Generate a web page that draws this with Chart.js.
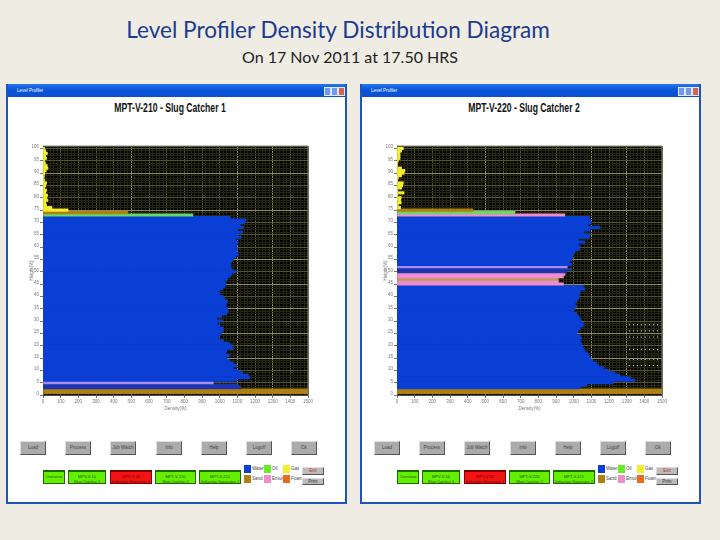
<!DOCTYPE html>
<html lang="en">
<head>
<meta charset="UTF-8">
<title>Level Profiler Density Distribution Diagram</title>
<script src="https://cdn.jsdelivr.net/npm/chart.js"></script>
<style>
    html, body { margin: 0; padding: 0; }
    body { width: 720px; height: 540px; background: #efece4; position: relative; overflow: hidden; font-family: "Liberation Sans", sans-serif; }
    .heading { position: absolute; white-space: nowrap; font-family: Lato, sans-serif; transform: translateX(-50%); }
    #mainTitle { left: 338px; top: 16px; font-size: 22.6px; color: #1c3a8e; }
    #subTitle { left: 350px; top: 47px; font-size: 16px; color: #222; }
    .win { position: absolute; top: 84px; width: 337px; height: 418px; background: #fff; border: 2px solid #1f55b8; border-top: none; filter: blur(0.35px); }
    .bar { position: absolute; left: 0; top: 0; width: 100%; height: 13px; background: linear-gradient(#2a78ee, #0a55dc 40%, #0a50d0); color: #fff; font-size: 4.5px; line-height: 13px; text-indent: 9px; }
    .bar i { position: absolute; top: 3px; width: 5px; height: 7px; background: #6f9cec; border: 1px solid #dce8ff; }
    .win canvas { position: absolute; left: 2px; top: 13px; }
    .ctitle { position: absolute; left: 0; width: 324px; top: 17px; text-align: center; font-family: "Liberation Sans", sans-serif; font-weight: bold; font-size: 12px; color: #111; transform: scaleX(0.72); }
    .btn, .ind, .sw, .swl { position: absolute; box-sizing: border-box; text-align: center; font-size: 4.5px; color: #444; white-space: nowrap; overflow: hidden; }
    .btn { background: #ababab; border: 1px solid; border-color: #ddd #555 #555 #ddd; line-height: 12px; }
    .ind { background: #64ee00; border: 1px solid #1d6a00; border-top-width: 2px; color: #245000; line-height: 5px; padding-top: 2px; font-size: 4px; }
    .ind.alarm { background: #f21414; border-color: #7a0000; color: #700; }
    .sw { width: 7px; height: 8px; }
    .swl { text-align: left; font-size: 4.5px; line-height: 8px; }
</style>
</head>
<body>
<div class="heading" id="mainTitle">Level Profiler Density Distribution Diagram</div>
<div class="heading" id="subTitle">On 17 Nov 2011 at 17.50 HRS</div>
<div class="win" id="win1" style="left:6px"></div>
<div class="win" id="win2" style="left:360px"></div>

<script>
// density read per 1% level, level 0 first
const tank1Density = [1500,1500,1119,1106,964,1096,1172,1162,1130,1106,
    1077,1096,1077,1055,1040,1055,1036,1040,1077,1072,
    1055,1021,994,998,1011,1021,1021,1002,987,1017,
    983,1011,1040,1049,1044,1036,1036,1044,1030,1017,
    1002,993,1017,1030,1036,1030,1044,1055,1068,1093,
    1070,1064,1062,1068,1077,1093,1106,1096,1102,1095,
    1098,1105,1090,1122,1105,1128,1100,1135,1115,1140,
    1149,1058,849,481,142,50,20,15,28,20,
    26,15,20,10,15,20,9,6,8,10,
    18,28,24,14,9,20,15,25,15,9];
const tank2Density = [1500,1500,1036,1074,1225,1347,1319,1262,1234,1196,
    1168,1140,1130,1108,1096,1089,1078,1064,1055,1051,
    1045,1036,1045,1036,1017,1027,1036,1055,1055,1045,
    1036,1027,1017,998,1008,1017,1008,1017,1027,1032,
    1032,1036,1064,1055,942,913,913,942,951,960,
    989,964,989,976,989,995,998,1008,1032,1036,
    1027,1064,1027,1089,1093,1055,1093,1149,1083,1102,
    1093,1089,950,668,430,20,8,24,21,24,
    4,40,4,26,32,36,2,8,26,40,
    45,26,2,4,8,17,17,17,26,36];

// fluid code per level: S sand, D dark water, L lavender, W water, E emulsion, T tan, O oil, G gas
const tank1Fluid = 'SSDDL' + 'W'.repeat(67) + 'OS' + 'G'.repeat(26);
const tank2Fluid = 'SS' + 'W'.repeat(42) + 'EETEEDDL' + 'W'.repeat(20) + 'EOS' + 'G'.repeat(25);

const fluidColors = { S: '#b07f12', D: '#1c35b0', L: '#a98af2', W: '#0a3fd6', E: '#f08ccb', T: '#bd9a5e', O: '#66d866', G: '#f5ee2a' };

const levelTicks = [0,5,10,15,20,25,30,35,40,45,50,55,60,65,70,75,80,85,90,95,100];
const densityTicks = [0,100,200,300,400,500,600,700,800,900,1000,1100,1200,1300,1400,1500];
const brightLevels = [15,25,35,45,55,75,90];
const brightDensity = [500,1100,1300];

// white dotted rows seen on the right side of tank 2
const tank2DotLevels = [28,25.5,23,18,14,11.5];
const tank2DotDensity = [1313,1489];

const buttonLabels = ['Load','Process','Job Watch','Info','Help','Logoff','Ok'];
const buttonLeft = [12,57,102,148,193,238,283];
const indicators = [
    ['Overview', 35, 22, false],
    ['MPV-V-10<br>Slug Catcher 1', 60, 38, false],
    ['MPV-V-20<br>Induction Separator 1', 102, 42, true],
    ['MPT-V-220<br>Slug Catcher 2', 147, 41, false],
    ['MPT-V-221<br>Induction Separator 2', 191, 42, false]
];
const legendItems = [
    ['Water', '#0a3fd6', 236, 381],
    ['Oil', '#66ee22', 256, 381],
    ['Gas', '#f5ee2a', 275, 381],
    ['Sand', '#b07f12', 236, 391],
    ['Emuls', '#f08ccb', 256, 391],
    ['Foam', '#e86a1e', 275, 391]
];

// black plot background and grey frame
const plotFrame = {
    id: 'plotFrame',
    beforeDraw(chart) {
        const a = chart.chartArea;
        chart.ctx.fillStyle = '#040400';
        chart.ctx.fillRect(a.left, a.top, a.right - a.left, a.bottom - a.top);
    },
    afterDraw(chart) {
        const a = chart.chartArea, ctx = chart.ctx;
        ctx.strokeStyle = '#8a8a80';
        ctx.lineWidth = 1;
        ctx.beginPath();
        ctx.moveTo(a.left, a.top);
        ctx.lineTo(a.right, a.top);
        ctx.lineTo(a.right, a.bottom);
        ctx.stroke();
    }
};

// grid colour from the tick value; the scale also asks once without a tick
function gridColor(bright, major) {
    return c => {
        if (!c.tick) return '#262614';
        if (bright.includes(c.tick.value)) return '#8f8f55';
        return major.includes(c.tick.value) ? '#55552c' : '#262614';
    };
}
function tickMarkColor(major) {
    return c => (c.tick && major.includes(c.tick.value)) ? '#777' : 'rgba(0,0,0,0)';
}

function addDiv(win, cls, style, html) {
    const d = document.createElement('div');
    d.className = cls;
    d.style.cssText = style;
    d.innerHTML = html || '';
    win.appendChild(d);
}

function drawWindow(winId, chartTitle, density, fluid, dotLevels) {
    const win = document.getElementById(winId);
    addDiv(win, 'bar', '', 'Level Profiler<i style="right:14px"></i><i style="right:7px"></i><i style="right:0;background:#d9634a"></i>');
    addDiv(win, 'ctitle', '', chartTitle);

    const canvas = document.createElement('canvas');
    canvas.width = 333;
    canvas.height = 330;
    win.appendChild(canvas);

    const datasets = [{
        label: chartTitle,
        data: density.map((d, i) => ({ x: d, y: i + 0.5 })),
        backgroundColor: density.map((d, i) => fluidColors[fluid[i]]),
        barPercentage: 1,
        categoryPercentage: 1,
        order: 2
    }];
    dotLevels.forEach(level => {
        datasets.push({
            type: 'line',
            data: [{ x: tank2DotDensity[0], y: level }, { x: tank2DotDensity[1], y: level }],
            borderColor: '#d8d8c0',
            borderWidth: 1,
            borderDash: [1, 3],
            pointRadius: 0,
            order: 1
        });
    });

    new Chart(canvas.getContext('2d'), {
        type: 'bar',
        data: { datasets: datasets },
        plugins: [plotFrame],
        options: {
            indexAxis: 'y',
            responsive: false,
            animation: false,
            devicePixelRatio: 1,
            layout: { padding: { left: 19, right: 35, top: 49, bottom: 16 } },
            plugins: {
                legend: { display: false },
                tooltip: { enabled: false }
            },
            scales: {
                x: {
                    type: 'linear',
                    min: 0,
                    max: 1500,
                    afterFit(scale) { scale.height = 16; },
                    afterBuildTicks(scale) {
                        const t = [];
                        for (let v = 0; v <= 1500; v += 20) t.push({ value: v });
                        scale.ticks = t;
                    },
                    border: { display: false },
                    grid: {
                        color: gridColor(brightDensity, densityTicks),
                        lineWidth: 1,
                        tickColor: tickMarkColor(densityTicks),
                        tickLength: 3
                    },
                    ticks: {
                        autoSkip: false,
                        maxRotation: 0,
                        padding: 1,
                        color: '#777',
                        font: { family: 'Liberation Sans', size: 4.5 },
                        callback: v => densityTicks.includes(v) ? String(v) : ''
                    },
                    title: {
                        display: true,
                        text: 'Density(%)',
                        color: '#777',
                        font: { family: 'Liberation Sans', size: 4.5 },
                        padding: { top: 1, bottom: 0 }
                    }
                },
                y: {
                    type: 'linear',
                    min: 0,
                    max: 100,
                    afterFit(scale) { scale.width = 14; },
                    afterBuildTicks(scale) {
                        const t = [];
                        for (let v = 0; v <= 100; v += 1) t.push({ value: v });
                        scale.ticks = t;
                    },
                    border: { display: false },
                    grid: {
                        color: gridColor(brightLevels, levelTicks),
                        lineWidth: 1,
                        tickColor: tickMarkColor(levelTicks),
                        tickLength: 3
                    },
                    ticks: {
                        autoSkip: false,
                        padding: 1,
                        color: '#777',
                        font: { family: 'Liberation Sans', size: 4.5 },
                        callback: v => levelTicks.includes(v) ? String(v) : ''
                    },
                    title: {
                        display: true,
                        text: 'Height(%)',
                        color: '#777',
                        font: { family: 'Liberation Sans', size: 4.5 },
                        padding: { top: 0, bottom: 1 }
                    }
                }
            }
        }
    });

    // control panel under the chart
    buttonLabels.forEach((label, i) => {
        addDiv(win, 'btn', `left:${buttonLeft[i]}px;top:357px;width:26px;height:14px`, label);
    });
    indicators.forEach(it => {
        addDiv(win, 'ind' + (it[3] ? ' alarm' : ''), `left:${it[1]}px;top:386px;width:${it[2]}px;height:14px`, it[0]);
    });
    legendItems.forEach(it => {
        addDiv(win, 'sw', `left:${it[2]}px;top:${it[3]}px;background:${it[1]}`);
        addDiv(win, 'swl', `left:${it[2] + 8}px;top:${it[3]}px`, it[0]);
    });
    addDiv(win, 'btn', 'left:294px;top:383px;width:22px;height:8px;line-height:6px;color:#b33;background:#bbb', 'Exit');
    addDiv(win, 'btn', 'left:294px;top:394px;width:22px;height:7px;line-height:5px;color:#333;background:#bbb', 'Print');
}

drawWindow('win1', 'MPT-V-210 - Slug Catcher 1', tank1Density, tank1Fluid, []);
drawWindow('win2', 'MPT-V-220 - Slug Catcher 2', tank2Density, tank2Fluid, tank2DotLevels);
</script>
</body>
</html>
